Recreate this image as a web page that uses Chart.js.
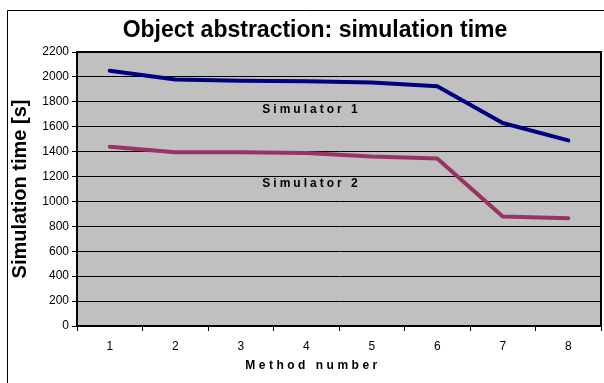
<!DOCTYPE html>
<html>
<head>
<meta charset="utf-8">
<script src="https://cdn.jsdelivr.net/npm/chart.js@4.4.1/dist/chart.umd.min.js"></script>
<style>
    html, body { margin: 0; padding: 0; background: #fff; }
    #chart { display: block; }
</style>
</head>
<body>
<canvas id="chart" width="604" height="383"></canvas>
<script>
const methods = ["1", "2", "3", "4", "5", "6", "7", "8"],
    simulator1 = [2050, 1980, 1970, 1965, 1955, 1925, 1630, 1490],
    simulator2 = [1440, 1395, 1395, 1390, 1360, 1345, 880, 865],
    seriesNames = ["Simulator 1", "Simulator 2"],
    // where each series name sits: [method index, time]
    namePlaces = [[3.08, 1735], [3.08, 1140]],
    yMax = 2200,
    yStep = 200;

const FONT = "Arial, 'Liberation Sans', sans-serif";

// grey plot area, frame lines, series names and x title
const decor = {
    id: "decor",
    beforeDraw(chart) {
        const { ctx, chartArea: a } = chart;
        ctx.save();
        ctx.fillStyle = "#C0C0C0";
        ctx.fillRect(a.left, a.top, a.right - a.left, a.bottom - a.top);
        ctx.strokeStyle = "#000";
        ctx.lineWidth = 1;
        ctx.beginPath();
        ctx.moveTo(7.5, 383);
        ctx.lineTo(7.5, 10.5);
        ctx.lineTo(604, 10.5);
        ctx.stroke();

        ctx.fillStyle = "#000";
        ctx.font = "bold 23px " + FONT;
        ctx.textAlign = "center";
        ctx.textBaseline = "middle";
        ctx.fillText("Object abstraction: simulation time", 315, 31);
        ctx.restore();
    },
    afterDatasetsDraw(chart) {
        const { ctx, chartArea: a, scales: { x, y } } = chart;
        ctx.save();
        ctx.strokeStyle = "#000";
        ctx.lineWidth = 2;
        ctx.strokeRect(a.left, a.top, a.right - a.left, a.bottom - a.top);

        ctx.fillStyle = "#000";
        ctx.textAlign = "center";
        ctx.textBaseline = "middle";
        ctx.font = "bold 12px " + FONT;
        ctx.letterSpacing = "3px";
        seriesNames.forEach((name, i) => {
            ctx.fillText(name, x.getPixelForValue(namePlaces[i][0]), y.getPixelForValue(namePlaces[i][1]));
        });
        ctx.letterSpacing = "3.5px";
        ctx.fillText("Method number", 313, 366);
        ctx.restore();
    }
};

new Chart(document.getElementById("chart"), {
    type: "line",
    data: {
        labels: methods,
        datasets: [{
            label: seriesNames[0],
            data: simulator1,
            borderColor: "#000080",
            borderWidth: 4,
        }, {
            label: seriesNames[1],
            data: simulator2,
            borderColor: "#993366",
            borderWidth: 4,
        }]
    },
    options: {
        responsive: false,
        animation: false,
        layout: { padding: { left: 0, top: 52, right: 3, bottom: 0 } },
        elements: {
            point: { radius: 0 },
            line: { tension: 0, borderCapStyle: "round", borderJoinStyle: "round" }
        },
        plugins: {
            legend: { display: false },
            tooltip: { enabled: false },
            title: { display: false }
        },
        scales: {
            x: {
                offset: true,
                afterFit: (s) => { s.height = 57; },
                grid: {
                    offset: true,
                    drawOnChartArea: false,
                    drawTicks: true,
                    tickLength: 5,
                    color: "#000"
                },
                border: { display: true, color: "#000", width: 2 },
                ticks: {
                    padding: 8,
                    color: "#000",
                    font: { family: FONT, size: 12 }
                }
            },
            y: {
                min: 0,
                max: yMax,
                afterFit: (s) => { s.width = 77; },
                grid: {
                    color: "#000",
                    lineWidth: 1,
                    drawTicks: true,
                    tickLength: 5
                },
                border: { display: true, color: "#000", width: 2 },
                ticks: {
                    stepSize: yStep,
                    padding: 3,
                    color: "#000",
                    font: { family: FONT, size: 12 },
                    callback: (v) => String(v)
                },
                title: {
                    display: true,
                    text: "Simulation time [s]",
                    color: "#000",
                    padding: { top: 8, bottom: 0 },
                    font: { family: FONT, size: 20, weight: "bold" }
                }
            }
        }
    },
    plugins: [decor]
});
</script>
</body>
</html>
